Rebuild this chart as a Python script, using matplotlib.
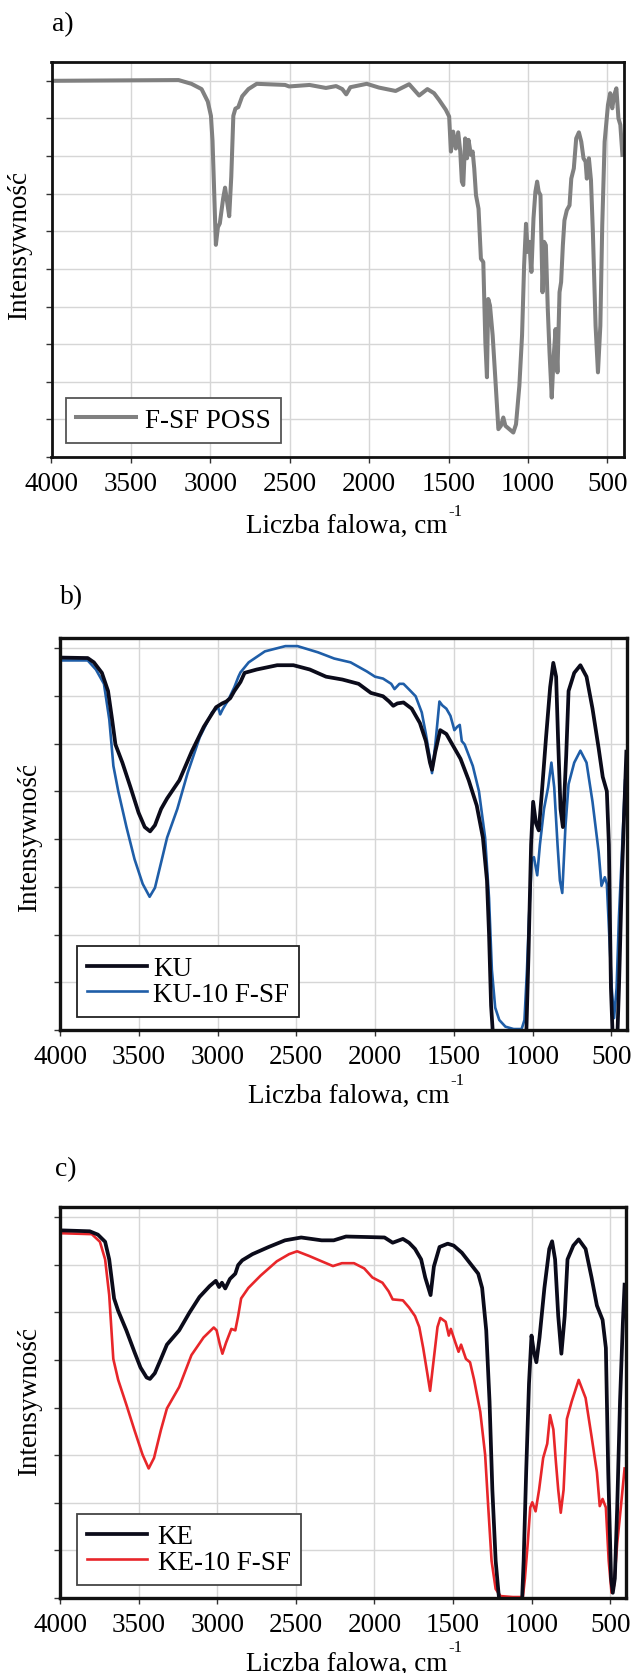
import matplotlib
matplotlib.use('Agg')
import matplotlib.pyplot as plt
import numpy as np

plt.rcParams['font.family'] = ['Liberation Serif', 'DejaVu Serif']

# ---------------- data ----------------
x_ticks = [4000, 3500, 3000, 2500, 2000, 1500, 1000, 500]
panel_tags = ['a)', 'b)', 'c)']
x_label = 'Liczba falowa, cm'
x_label_sup = '-1'
y_label = 'Intensywność'

# panel a: F-SF POSS
a_name = 'F-SF POSS'
a_wn = [4000, 3200, 3119, 3055, 3016, 2996, 2986, 2975, 2965, 2952, 2940, 2919, 2907, 2894,
        2881, 2868, 2855, 2842, 2824, 2799, 2760, 2708, 2529, 2504, 2375, 2272, 2208, 2169,
        2144, 2118, 2015,
        1938, 1833, 1748, 1685, 1633, 1591, 1559, 1517, 1496, 1485, 1471, 1454, 1439, 1426,
        1416, 1407, 1395, 1384, 1374, 1359, 1348, 1338, 1327, 1311, 1296, 1281, 1268, 1258,
        1250, 1239, 1222, 1205, 1186, 1170, 1155, 1142, 1117, 1092, 1075, 1054, 1037, 1024,
        1012, 1001, 991, 978, 965, 953, 942, 932, 921, 908, 898, 887, 875, 864, 850, 839,
        826, 814, 801, 791, 780, 770, 755, 738, 727, 711, 696, 679, 664, 650, 637, 629, 616,
        603, 591, 574, 559, 544, 532, 517, 496, 482, 469, 456, 443, 430, 418, 405]
a_val = [100.0, 100.2, 99.2, 97.8, 94.5, 90.7, 84.0, 69.7, 56.4, 61.1, 62.1, 68.8, 71.6, 67.8,
         64.0, 74.5, 90.7, 92.6, 93.0, 95.9, 97.8, 99.2, 98.9, 98.5, 98.9, 98.1, 98.6, 97.8,
         96.4, 98.3, 99.2,
         98.2, 97.3, 99.1, 96.1, 97.8, 96.7, 94.9, 92.3, 90.5, 81.2, 86.5, 82.0, 86.3, 81.2,
         73.2, 72.3, 84.7, 79.4, 84.3, 80.3, 81.2, 76.7, 69.6, 66.0, 52.7, 51.8, 30.5, 21.2,
         42.0, 40.3, 32.3, 20.7, 7.4, 8.3, 10.5, 8.3, 7.4, 6.5, 8.7, 18.9, 32.3, 50.9,
         62.0, 54.5, 57.2, 49.2, 63.4, 70.5, 73.2, 70.5, 69.6, 43.8, 57.2, 56.3, 39.4, 27.8,
         15.8, 26.0, 34.0, 22.5, 43.8, 46.5, 56.3, 62.9, 65.6, 66.9, 74.0, 76.7, 84.7, 86.3,
         83.8, 79.4, 78.5, 74.0, 79.4, 73.6, 59.8, 34.9, 22.5, 34.9, 61.6, 83.8, 93.6, 96.7,
         92.7, 96.3, 98.0, 90.0, 88.3, 80.3]

# panel b: KU and KU-10 F-SF
b_names = ['KU', 'KU-10 F-SF']
ku_wn = [4000, 3824, 3785, 3734, 3695, 3669, 3648, 3604, 3552, 3501, 3462, 3428, 3397, 3358,
         3320, 3242, 3164, 3087, 3009, 2970, 2944, 2919, 2893, 2854, 2828, 2751, 2621, 2518,
         2414, 2311, 2207, 2104, 2026, 1949, 1910, 1884, 1858, 1819, 1767, 1715, 1677, 1651,
         1638, 1617, 1586, 1547, 1509, 1457, 1405, 1354, 1315, 1289, 1276, 1263, 1245, 1042,
         1025, 1009, 996, 978, 960, 940, 914, 888, 868, 850, 838, 822, 807, 786, 771, 735,
         696, 657, 619, 580, 554, 528, 515, 502, 489, 463, 451, 433, 417, 404]
ku_val = [78.0, 77.9, 77.0, 74.8, 71.0, 65.0, 59.8, 56.0, 50.8, 45.5, 42.5, 41.6, 42.9, 46.3,
          48.5, 52.3, 58.3, 63.5, 67.6, 68.4, 68.8, 69.5, 71.0, 72.9, 74.8, 75.5, 76.4, 76.4,
          75.5, 74.0, 73.4, 72.5, 70.6, 69.9, 68.8, 67.9, 68.4, 68.6, 67.3, 64.3, 60.5, 56.0,
          54.5, 58.3, 62.8, 62.0, 59.8, 56.8, 52.3, 47.0, 40.3, 31.3, 20.1, 5.1, -4.0, -4.0,
          16.3, 38.8, 47.8, 43.3, 41.8, 50.0, 61.3, 71.8, 76.9, 74.0, 61.3, 46.3, 42.5, 57.5,
          71.0, 74.8, 76.4, 74.0, 67.3, 59.0, 53.0, 50.0, 38.8, 8.8, -3.0, -3.0, 8.8, 31.3,
          46.3, 58.3]
ku10_wn = [4000, 3824, 3772, 3721, 3687, 3661, 3630, 3578, 3527, 3475, 3431, 3397, 3358, 3320,
           3255, 3190, 3113, 3035, 2996, 2983, 2965, 2932, 2893, 2867, 2854, 2802, 2699, 2569,
           2492, 2362, 2259, 2155, 2052, 2000, 1949, 1897, 1876, 1845, 1819, 1780, 1742, 1703,
           1677, 1651, 1638, 1617, 1591, 1573, 1547, 1521, 1496, 1478, 1462, 1449, 1431, 1379,
           1340, 1301, 1276, 1258, 1237, 1211, 1172, 1120, 1069, 1051, 1035, 1022, 1004, 991,
           970, 953, 927, 901, 880, 862, 841, 826, 811, 791, 771, 735, 696, 657, 619, 580, 562,
           541, 528, 513, 497, 482, 466, 451, 430, 412]
ku10_val = [77.4, 77.4, 75.5, 72.5, 65.0, 55.3, 50.0, 42.5, 35.8, 30.6, 27.9, 29.8, 35.1, 40.3,
            46.3, 53.8, 61.3, 66.5, 67.6, 66.1, 67.3, 69.1, 71.8, 74.0, 74.9, 77.0, 79.3, 80.4,
            80.4, 79.1, 77.8, 77.0, 75.1, 74.0, 73.6, 72.5, 71.4, 72.5, 72.5, 71.2, 69.9, 66.5,
            62.0, 56.8, 53.8, 59.8, 68.8, 68.0, 67.3, 65.8, 62.8, 63.5, 63.9, 60.5, 59.8, 55.3,
            50.0, 40.3, 27.6, 12.6, 4.7, 2.1, 0.7, 0.2, 0.2, 2.1, 12.6, 23.8, 35.8, 36.2,
            32.4, 38.8, 46.3, 50.8, 56.0, 50.8, 38.8, 31.3, 28.7, 42.5, 51.5, 56.0, 58.5, 56.0,
            47.8, 37.3, 30.2, 32.0, 30.6, 20.1, 8.8, 2.5, 8.8, 23.8, 38.8, 52.3]

# panel c: KE and KE-10 F-SF
c_names = ['KE', 'KE-10 F-SF']
ke_wn = [4000, 3811, 3759, 3713, 3687, 3656, 3630, 3578, 3527, 3488, 3449, 3428, 3397, 3358,
         3320, 3242, 3177, 3113, 3048, 3009, 2988, 2970, 2949, 2919, 2885, 2867, 2841, 2776,
         2673, 2569, 2466, 2336, 2259, 2181, 2052, 1936, 1884, 1819, 1780, 1742, 1703, 1677,
         1643, 1622, 1586, 1534, 1496, 1444, 1392, 1340, 1315, 1289, 1268, 1250, 1229, 1211,
         1198, 1064, 1051, 1035, 1017, 1001, 986, 970, 950, 919, 888, 870, 851, 831, 811, 790,
         772, 735, 701, 657, 619, 585, 549, 528, 513, 495, 484, 471, 456, 438, 420, 409]
ke_val = [77.2, 77.0, 76.3, 74.8, 71.1, 62.9, 60.3, 56.2, 51.7, 48.4, 46.3, 46.0, 47.2, 50.2,
          53.2, 56.2, 59.9, 63.2, 65.5, 66.6, 65.3, 66.2, 65.0, 67.0, 68.1, 69.9, 70.9, 72.2,
          73.7, 75.1, 75.7, 75.1, 75.1, 75.9, 75.8, 75.7, 74.6, 75.4, 74.6, 73.3, 71.1, 67.3,
          63.6, 69.6, 73.7, 74.4, 74.0, 72.5, 70.3, 68.1, 65.1, 56.2, 41.3, 22.7, 7.8, 1.1,
          -3.0, -3.0, 7.8, 26.4, 45.0, 55.1, 51.7, 49.5, 54.7, 65.1, 73.3, 74.9, 71.1, 59.2,
          51.3, 59.2, 71.1, 74.0, 75.3, 73.3, 67.3, 61.4, 58.4, 52.5, 26.4, 4.1, 1.1, 4.1,
          19.0, 41.3, 57.7, 65.8]
ke10_wn = [4000, 3798, 3746, 3713, 3687, 3661, 3630, 3578, 3527, 3475, 3436, 3402, 3358, 3320,
           3242, 3164, 3087, 3022, 3004, 2983, 2967, 2944, 2910, 2885, 2867, 2848, 2802, 2724,
           2621, 2543, 2492, 2414, 2336, 2264, 2207, 2130, 2065, 2013, 1949, 1910, 1884, 1819,
           1780, 1742, 1715, 1690, 1664, 1646, 1625, 1599, 1581, 1547, 1527, 1514, 1488, 1465,
           1449, 1418, 1392, 1366, 1327, 1296, 1276, 1255, 1229, 1198, 1120, 1056, 1043, 1025,
           1009, 996, 975, 953, 927, 901, 883, 862, 846, 831, 815, 797, 776, 745, 701, 657, 619,
           585, 567, 549, 528, 510, 492, 476, 456, 433, 409]
ke10_val = [76.6, 76.4, 74.8, 71.1, 63.6, 50.2, 45.8, 40.6, 35.3, 30.1, 27.2, 29.4, 35.3, 39.8,
            44.3, 51.0, 54.7, 56.8, 56.2, 53.2, 51.3, 53.6, 56.5, 56.2, 59.2, 62.9, 65.1, 67.7,
            70.7, 72.2, 72.8, 71.8, 70.7, 69.7, 70.3, 70.3, 69.2, 67.3, 66.2, 64.4, 62.7, 62.5,
            61.0, 59.2, 56.9, 52.5, 47.2, 43.5, 49.5, 56.9, 58.8, 58.0, 55.1, 56.5, 53.9, 51.7,
            53.2, 50.2, 49.5, 45.8, 39.1, 30.1, 19.0, 7.8, 1.9, 0.4, 0.2, 0.2, 4.1, 11.5,
            19.0, 20.1, 18.2, 22.7, 29.4, 32.4, 38.4, 35.4, 28.6, 22.7, 17.9, 22.7, 37.6, 41.3,
            45.8, 42.0, 33.9, 26.4, 19.3, 20.8, 19.0, 7.8, 1.1, 2.6, 11.5, 19.0, 27.2]

# ---------------- figure ----------------
W, H = 639, 1674
fig = plt.figure(figsize=(W / 100, H / 100), dpi=100)
FS = 19.5


def add_axes_px(left, top, right, bottom):
    return fig.add_axes([left / W, 1 - bottom / H, (right - left) / W, (bottom - top) / H])


def style(ax, xright, ymax, ytop_tick, ystep, spine_w):
    ax.set_xlim(4000, xright)
    ax.set_ylim(0, ymax)
    ax.set_xticks(x_ticks)
    ax.set_xticklabels([str(t) for t in x_ticks], fontsize=FS)
    ax.set_yticks(np.arange(0, ytop_tick + 0.1, ystep))
    ax.set_yticklabels([])
    ax.grid(True, color='#d6d6d6', lw=1.0)
    ax.set_axisbelow(True)
    ax.tick_params(axis='both', direction='out', length=4, width=1, color='#333333')
    ax.tick_params(axis='x', pad=6)
    for s in ax.spines.values():
        s.set_linewidth(spine_w)
        s.set_color('#111111')


def legend(ax, anchor, edge, tpad):
    lg = ax.legend(loc='lower left', bbox_to_anchor=anchor, borderaxespad=0, fontsize=FS,
                   frameon=True, fancybox=False, handlelength=2.2, handletextpad=tpad,
                   labelspacing=0.02, borderpad=0.38)
    lg.get_frame().set_edgecolor(edge)
    lg.get_frame().set_linewidth(1.3)
    lg.get_frame().set_alpha(1)
    return lg


# panel a
axa = add_axes_px(51.5, 63, 624, 458)
axa.plot(a_wn, a_val, color='#808080', lw=2.9, label=a_name, solid_joinstyle='round')
style(axa, 395, 105, 100, 10, 2.0)
legend(axa, (0.025, 0.035), '#555555', 0.35)

# panel b
axb = add_axes_px(60, 639, 627, 1031)
axb.plot(ku_wn, ku_val, color='#0b0b1a', lw=2.7, label=b_names[0], zorder=2.2)
axb.plot(ku10_wn, ku10_val, color='#1f5ea8', lw=1.9, label=b_names[1], zorder=2.1)
style(axb, 400, 82.1, 80, 10, 2.4)
legend(axb, (0.03, 0.033), '#222222', 0.22)

# panel c
axc = add_axes_px(60, 1208, 626, 1599)
axc.plot(ke_wn, ke_val, color='#0b0b1a', lw=2.7, label=c_names[0], zorder=2.2)
axc.plot(ke10_wn, ke10_val, color='#e8262a', lw=1.9, label=c_names[1], zorder=2.1)
style(axc, 400, 82.1, 80, 10, 2.4)
legend(axc, (0.03, 0.033), '#444444', 0.4)

# labels
for tag, (tx, ty) in zip(panel_tags, [(63, 25), (72, 598), (66, 1170)]):
    fig.text(tx / W, 1 - ty / H, tag, fontsize=20, ha='center', va='center')

renderer = fig.canvas.get_renderer()
for (lx, base, sup_base) in [(246, 533, 516), (248, 1103, 1085), (246, 1671, 1652)]:
    t = fig.text(lx / W, 1 - base / H, x_label, fontsize=FS, ha='left', va='baseline')
    bb = t.get_window_extent(renderer)
    fig.text((bb.x1 + 1) / W, 1 - sup_base / H, x_label_sup, fontsize=12, ha='left',
             va='baseline')

for (lx, ly) in [(20, 246), (30, 838), (30, 1402)]:
    fig.text(lx / W, 1 - ly / H, y_label, fontsize=FS, rotation=90, ha='center', va='center')

fig.savefig('out.png', dpi=100)
